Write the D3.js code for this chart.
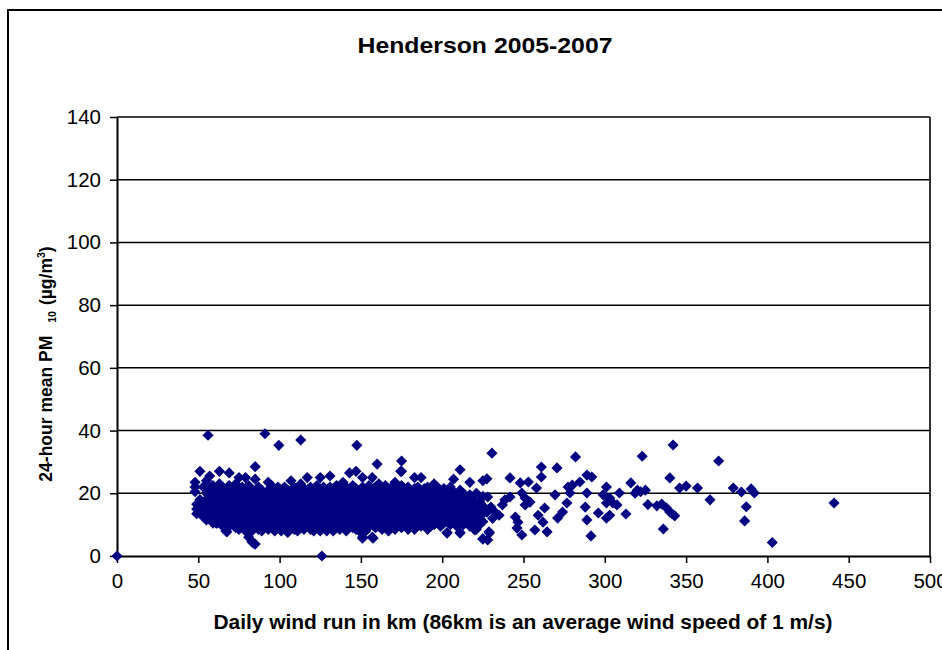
<!DOCTYPE html>
<html>
<head>
<meta charset="utf-8">
<script src="https://cdn.jsdelivr.net/npm/d3@7"></script>
<style>
  body { margin: 0; background: #fff; }
  svg text { font-family: Arial, "Liberation Sans", sans-serif; fill: #000; }
</style>
</head>
<body>
<svg id="chart" width="942" height="650"></svg>
<script>
const xTicks = [0, 50, 100, 150, 200, 250, 300, 350, 400, 450, 500];
const yTicks = [0, 20, 40, 60, 80, 100, 120, 140];

// dense part of the cloud, grouped by wind run: [km, [PM10 values]]
const cluster = [
  [48, [23.5, 22, 20.5]], [49, [16.5, 15, 13.5]], [51, [27, 18, 15.5, 14]], [53, [22, 16.5, 12.5]],
  [55, [24, 20, 18, 15, 13, 11.5]], [57, [25.5, 21.5, 19, 16.5, 14, 12]], [59, [22.5, 20, 17.5, 15.5, 13, 10.5]],
  [61, [21, 18.5, 16, 14, 12, 10.5]], [63, [27, 23, 19.5, 17, 15, 13, 11]], [65, [22, 20, 17.5, 15.5, 13.5, 11.5, 9.5]],
  [67, [21, 18.5, 16.5, 14.5, 12.5, 10, 8]], [69, [26.5, 22.5, 20, 17, 15, 13, 11, 9.5]], [71, [21.5, 19, 16, 14, 12, 10.5]],
  [73, [23, 20.5, 18, 15.5, 13.5, 11.5, 9]], [75, [25, 21, 19, 17, 14.5, 12.5, 10.5, 8.5]], [77, [22, 20, 17.5, 15.5, 13, 11, 9.5]],
  [79, [25, 21.5, 18.5, 16, 14, 12, 10, 8]], [81, [22.5, 20, 17, 15, 13, 11, 9, 6]], [83, [21, 18.5, 16, 14, 12, 10, 8, 4.5]],
  [85, [28.5, 24.5, 20.5, 18, 15.5, 13.5, 11.5, 9.5, 3.8]], [87, [22, 19.5, 17, 15, 13, 11, 8.5]], [89, [21, 18.5, 16.5, 14, 12, 10, 8]],
  [91, [20, 17.5, 15.5, 13.5, 11.5, 9.5]], [93, [23.5, 21, 19, 16.5, 14.5, 12.5, 10.5, 8.5]], [95, [22.5, 20, 17.5, 15, 13, 11, 9]],
  [97, [21, 18.5, 16.5, 14, 12, 10, 8]], [99, [22, 19.5, 17, 15, 13, 11, 9.5]], [101, [20.5, 18, 16, 14, 12, 10, 8]],
  [103, [22, 19.5, 17.5, 15, 13, 11, 9]], [105, [21, 18.5, 16, 14, 12, 10, 7.5]], [107, [24, 20, 17.5, 15.5, 13.5, 11.5, 9.5]],
  [109, [22, 19, 16.5, 14.5, 12.5, 10.5, 8.5]], [111, [21, 18.5, 16, 14, 12, 10, 8]], [113, [23, 20, 17.5, 15, 13, 11, 9]],
  [115, [21.5, 19, 16.5, 14.5, 12.5, 10.5, 8.5]], [117, [25, 20.5, 18, 16, 13.5, 11.5, 9.5]], [119, [22, 19.5, 17, 15, 13, 11, 8.5]],
  [121, [21, 18.5, 16, 14, 12, 10, 8]], [123, [22.5, 20, 17.5, 15.5, 13.5, 11, 9]], [125, [25, 21, 18.5, 16, 14, 12, 10, 8]],
  [127, [22, 19.5, 17, 15, 13, 11, 9]], [129, [21, 18.5, 16.5, 14, 12, 10, 8]], [131, [25.5, 22, 19.5, 17, 15, 13, 11, 9]],
  [133, [21, 18.5, 16, 14, 12, 10, 8]], [135, [22.5, 20, 17.5, 15.5, 13, 11, 9]], [137, [21.5, 19, 16.5, 14.5, 12.5, 10.5, 8.5]],
  [139, [23.5, 20.5, 18, 15.5, 13.5, 11.5, 9.5]], [141, [22, 19.5, 17, 15, 13, 11, 8]], [143, [26.5, 21, 18.5, 16, 14, 12, 10]],
  [145, [22.5, 20, 17.5, 15, 13, 11, 9]], [147, [27, 21.5, 19, 16.5, 14.5, 12.5, 10.5, 8.5]], [149, [20.5, 18, 16, 14, 12, 10, 8]],
  [151, [25, 22, 19.5, 17, 15, 13, 11, 9, 6]], [153, [21, 18.5, 16, 14, 12, 10, 8]], [155, [22.5, 20, 17.5, 15.5, 13.5, 11.5, 9.5]],
  [157, [25, 21, 18.5, 16, 14, 12, 10, 6]], [159, [22, 19.5, 17, 15, 13, 11, 9]], [161, [23, 20.5, 18, 15.5, 13.5, 11.5, 9.5]],
  [163, [21.5, 19, 16.5, 14.5, 12.5, 10.5, 8.5]], [165, [22.5, 20, 17.5, 15, 13, 11, 9]], [167, [21, 18.5, 16, 14, 12, 10, 8]],
  [169, [22, 19.5, 17, 15, 13, 11, 9]], [171, [23.5, 20.5, 18, 16, 14, 12, 8.5]], [173, [21.5, 19, 16.5, 14.5, 12.5, 10.5]],
  [175, [27, 22.5, 20, 17.5, 15, 13, 11, 9]], [177, [21, 18.5, 16, 14, 12, 10]], [179, [22, 19.5, 17, 15, 13, 11, 8.5]],
  [181, [20.5, 18, 16, 13.5, 11.5, 9.5]], [183, [25, 21.5, 19, 16.5, 14.5, 12.5, 10.5, 8.5]], [185, [22, 19.5, 17, 15, 13, 11]],
  [187, [25, 20.5, 18, 16, 14, 12, 9.5]], [189, [21.5, 19, 16.5, 14.5, 12, 10]], [191, [22, 19.5, 17, 15, 13, 11, 8.5]],
  [193, [20.5, 18, 15.5, 13.5, 11.5, 9.5]], [195, [23, 21, 18.5, 16, 14, 12, 10]], [197, [22, 19.5, 17, 15, 13, 11]],
  [199, [20.5, 18, 16, 14, 12, 9.5]], [201, [21.5, 19, 16.5, 14.5, 12.5, 10.5]], [203, [20, 17.5, 15, 13, 11, 7.5]],
  [205, [22, 19, 16.5, 14, 12, 10]], [207, [24.5, 20.5, 18, 15.5, 13, 11]], [209, [19, 16.5, 14.5, 12, 9.5]],
  [211, [27.5, 21, 18, 15.5, 13.5, 11, 7.5]], [213, [20, 17, 14.5, 12.5, 10]], [215, [18.5, 16, 13.5, 11.5]],
  [217, [23.5, 19.5, 17, 14, 12, 9.5]], [219, [18, 15, 13, 10.5]], [221, [20, 16.5, 14, 11.5, 8.5]],
  [223, [17.5, 15, 12.5, 10]], [225, [24, 19, 16, 13.5, 11, 5.5]]
];

// sparser points at the high wind end: [km, PM10]
const scattered = [
  [227.5, 24.6], [228, 18.8], [227.5, 14], [230, 15.6], [232.5, 14], [235, 13], [231, 12], [228.8, 7.7], [228, 5.1],
  [229, 7.3], [237, 16.3], [238.6, 17.9], [241.7, 18.8], [241.7, 24.9], [248, 23.3], [253, 23.6], [258, 21.7],
  [249, 20.1], [251, 18.5], [254, 17.2], [251, 16.3], [245, 12.4], [246.6, 10.8], [246, 8.9], [249, 6.7],
  [257, 8.3], [259, 13], [262, 10.8], [264.5, 7.7], [263, 15.3], [261, 28.4], [261, 25.2], [270.6, 28.1],
  [269.4, 19.5], [271, 12.1], [274, 14], [276.7, 16.9], [278.6, 20.1], [277.4, 22], [280, 22.6], [284.7, 23.6],
  [289, 25.8], [292, 25.2], [289, 20.1], [288, 15.6], [289, 11.5], [291.5, 6.4], [296, 13.7], [299, 19.5],
  [301, 22], [301, 16.9], [303, 18.5], [305, 16.9], [307.5, 16.3], [303, 13], [301, 12.1], [309, 20.1],
  [313, 13.4], [316, 23.3], [318.6, 20], [320, 21], [322, 20.5], [325, 21], [326.5, 16.4], [332, 16],
  [335, 16.6], [338, 15.3], [340, 14], [341.5, 13.4], [343, 12.8], [336, 8.6], [340, 24.9], [346, 21.7],
  [350, 22.3], [357, 21.7], [364.7, 17.9], [379, 21.7], [384, 20.4], [387, 15.7], [386, 11.2], [390, 21.4],
  [392, 20.1]
];

// isolated points well away from the cloud: [km, PM10]
const outliers = [
  [0, 0], [126, 0], [56, 38.5], [91, 39], [99.5, 35.3], [113, 37], [147.5, 35.3], [160, 29.3], [175, 30.3],
  [174.5, 27], [230.6, 32.8], [282, 31.6], [323, 31.8], [342, 35.4], [370, 30.3], [403, 4.3], [441, 16.9],
  [84, 4.1], [157.5, 5.7], [151, 5.7], [203, 7.3], [220, 8.3], [225, 5.4], [211, 7.3], [61.5, 10.5], [67.6, 7.7]
];

var points = [];
cluster.forEach(function (c) {
  c[1].forEach(function (v) { points.push([c[0], v]); });
});
points = points.concat(scattered, outliers);

var svg = d3.select('#chart');
var plot = { left: 117, right: 930, top: 117, bottom: 556 };

var x = d3.scaleLinear().domain([0, 500]).range([plot.left, plot.right]);
var y = d3.scaleLinear().domain([0, 140]).range([plot.bottom, plot.top]);

// chart frame (runs off the right and bottom of the picture)
svg.append('rect')
  .attr('x', 8).attr('y', 10)
  .attr('width', 1000).attr('height', 1000)
  .attr('fill', 'none').attr('stroke', '#000').attr('stroke-width', 2);

// gridlines
svg.append('g').selectAll('line')
  .data(yTicks.filter(function (t) { return t > 0; }))
  .enter().append('line')
  .attr('x1', plot.left).attr('x2', plot.right)
  .attr('y1', function (t) { return y(t); }).attr('y2', function (t) { return y(t); })
  .attr('stroke', '#000').attr('stroke-width', 1.5);

// right edge of the plot area
svg.append('line')
  .attr('x1', plot.right).attr('x2', plot.right)
  .attr('y1', plot.top).attr('y2', plot.bottom)
  .attr('stroke', '#333').attr('stroke-width', 2);

var xAxis = svg.append('g')
  .attr('transform', 'translate(0,' + plot.bottom + ')')
  .call(d3.axisBottom(x).tickValues(xTicks).tickSize(7).tickSizeOuter(0).tickPadding(10));
var yAxis = svg.append('g')
  .attr('transform', 'translate(' + plot.left + ',0)')
  .call(d3.axisLeft(y).tickValues(yTicks).tickSize(7).tickSizeOuter(0).tickPadding(9));

[xAxis, yAxis].forEach(function (a) {
  a.select('.domain').attr('stroke', '#000').attr('stroke-width', 2);
  a.selectAll('.tick line').attr('stroke', '#000').attr('stroke-width', 1.5);
  a.selectAll('.tick text')
    .attr('font-family', 'Arial, "Liberation Sans", sans-serif')
    .attr('font-size', 20.5).attr('fill', '#000');
});

// markers
svg.append('g').selectAll('path')
  .data(points)
  .enter().append('path')
  .attr('d', d3.symbol(d3.symbolSquare, 62))
  .attr('transform', function (d) { return 'translate(' + x(d[0]) + ',' + y(d[1]) + ') rotate(45)'; })
  .attr('fill', '#000080');

// titles
svg.append('text')
  .attr('x', 485).attr('y', 53)
  .attr('text-anchor', 'middle')
  .attr('font-size', 22).attr('font-weight', 'bold')
  .attr('textLength', 255).attr('lengthAdjust', 'spacingAndGlyphs')
  .text('Henderson 2005-2007');

svg.append('text')
  .attr('x', 523).attr('y', 629)
  .attr('text-anchor', 'middle')
  .attr('font-size', 20).attr('font-weight', 'bold')
  .attr('textLength', 619).attr('lengthAdjust', 'spacingAndGlyphs')
  .text('Daily wind run in km (86km is an average wind speed of 1 m/s)');

var yTitle = svg.append('text')
  .attr('transform', 'translate(52,364) rotate(-90)')
  .attr('text-anchor', 'middle')
  .attr('font-size', 17.5).attr('font-weight', 'bold');
yTitle.append('tspan').text('24-hour mean PM');
yTitle.append('tspan').attr('dx', 13).attr('dy', 4).attr('font-size', 10.5).text('10');
yTitle.append('tspan').attr('dx', 6).attr('dy', -4).text('(µg/m');
yTitle.append('tspan').attr('dy', -7).attr('font-size', 10.5).text('3');
yTitle.append('tspan').attr('dy', 7).text(')');
</script>
</body>
</html>
